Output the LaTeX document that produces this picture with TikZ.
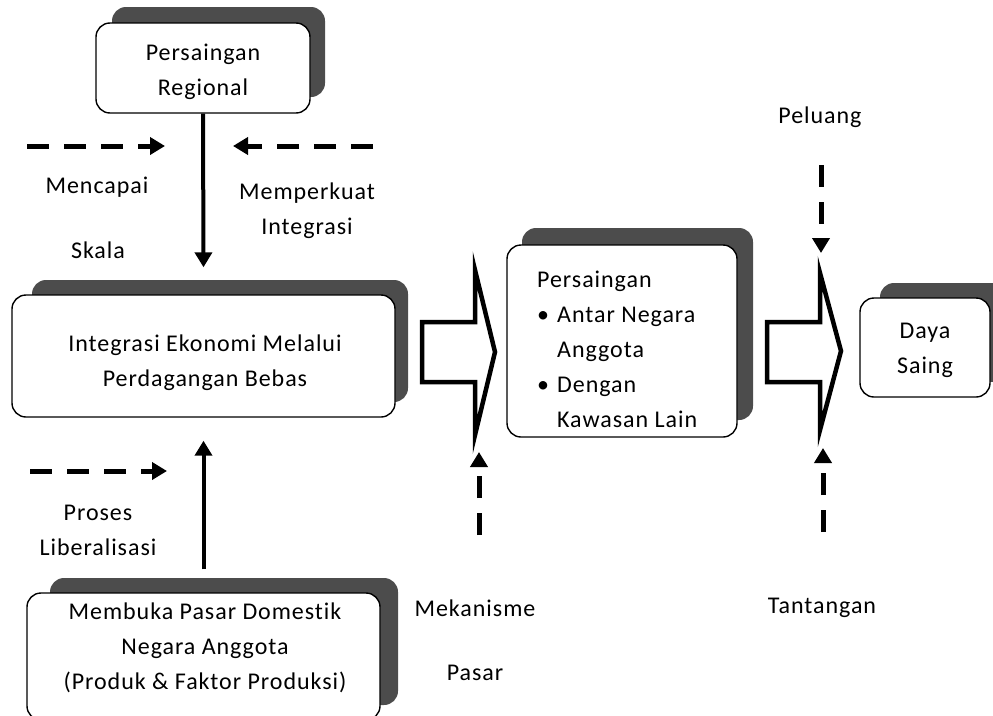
\documentclass[tikz,border=0pt]{standalone}
\usepackage{fontspec}
\setmainfont{Carlito}[LetterSpace=4,Ligatures=NoCommon]
\usetikzlibrary{arrows.meta,backgrounds}
\begin{document}
\begin{tikzpicture}[x=1pt,y=-1pt,
  box/.style={draw=black, line width=1.4pt, fill=white, rounded corners=14pt,
    align=center, inner sep=0pt, font=\fontsize{24}{35}\selectfont},
  shadowbox/.style={fill=black!70, rounded corners=14pt},
  solidarr/.style={line width=4pt, -{Triangle[width=17pt,length=15pt]}},
  dasharr/.style={line width=5pt, dash pattern=on 22pt off 15pt,
    -{Triangle[width=17pt,length=15pt]}},
  hollow/.style={line width=4.5pt, fill=white, line join=miter, miter limit=20},
  lbl/.style={font=\fontsize{24}{35}\selectfont, align=center, inner sep=0pt}]
\useasboundingbox (0,0) rectangle (993,715);
\clip (0,0) rectangle (993,715);

% shadows
\fill[shadowbox] (112,7) rectangle (325,97);
\fill[shadowbox] (32,280) rectangle (408,402);
\fill[shadowbox] (522,228) rectangle (753,420);
\fill[shadowbox] (880,283) rectangle (1005,382);
\fill[shadowbox] (50,578) rectangle (398,705);

% boxes
\node[box, minimum width=214pt, minimum height=90pt] (reg) at (203,68) {};
\node[lbl] (regtxt) at (203,72) {Persaingan\\Regional};
\node[box, minimum width=383pt, minimum height=122pt] (integ) at (203.5,356) {};
\node[lbl] (integtxt) at (205,363) {Integrasi Ekonomi Melalui\\Perdagangan Bebas};
\node[box, minimum width=230pt, minimum height=192pt] (pers) at (622,341) {};
\node[lbl, align=left, anchor=west] (perstxt) at (537,349)
  {Persaingan\\\makebox[20pt][l]{•}Antar Negara\\\hspace*{20pt}Anggota\\\makebox[20pt][l]{•}Dengan\\\hspace*{20pt}Kawasan Lain};
\node[box, minimum width=130pt, minimum height=99pt] (daya) at (925,347.5) {};
\node[lbl] (dayatxt) at (925,350) {Daya\\Saing};
\node[box, minimum width=353pt, minimum height=127pt] (memb) at (203.5,656.5) {};
\node[lbl] (membtxt) at (205,648) {Membuka Pasar Domestik\\Negara Anggota\\(Produk \& Faktor Produksi)};

% hollow arrows
\draw[hollow] (422,322) -- (475,322) -- (475,270) -- (495,352) -- (475,435) -- (475,382) -- (422,382) -- cycle;
\draw[hollow] (767,322) -- (820,322) -- (820,273) -- (841,351) -- (820,430) -- (820,382) -- (767,382) -- cycle;

% solid arrows
\draw[solidarr] (reg.south) -- ([yshift=27pt]integ.north);
\draw[solidarr] ([yshift=23pt]memb.north) -- ([yshift=-23pt]integ.south);

% dashed arrows
\coordinate (tl1) at (27,146); \coordinate (tl2) at (165,146);
\coordinate (tr1) at (373,146); \coordinate (tr2) at (233,146);
\coordinate (bl1) at (30,471); \coordinate (bl2) at (167,471);
\coordinate (mk1) at (479,535); \coordinate (mk2) at (479,452);
\coordinate (pl1) at (821,165); \coordinate (pl2) at (821,253);
\coordinate (tn1) at (823,532); \coordinate (tn2) at (823,448);
\draw[dasharr] (tl1) -- (tl2);
\draw[dasharr] (tr1) -- (tr2);
\draw[dasharr] (bl1) -- (bl2);
\draw[dasharr] (mk1) -- (mk2);
\draw[dasharr] (pl1) -- (pl2);
\draw[dasharr] (tn1) -- (tn2);

% labels
\node[lbl] (mencapai) at (97,187) {Mencapai};
\node[lbl] (skala) at (98,250) {Skala};
\node[lbl] (memperkuat) at (307,211) {Memperkuat\\Integrasi};
\node[lbl] (proses) at (98,530) {Proses\\Liberalisasi};
\node[lbl] (peluang) at (820,117) {Peluang};
\node[lbl] (mekanisme) at (475,608) {Mekanisme};
\node[lbl] (pasar) at (475,673) {Pasar};
\node[lbl] (tantangan) at (822,608) {Tantangan};
\end{tikzpicture}
\end{document}
